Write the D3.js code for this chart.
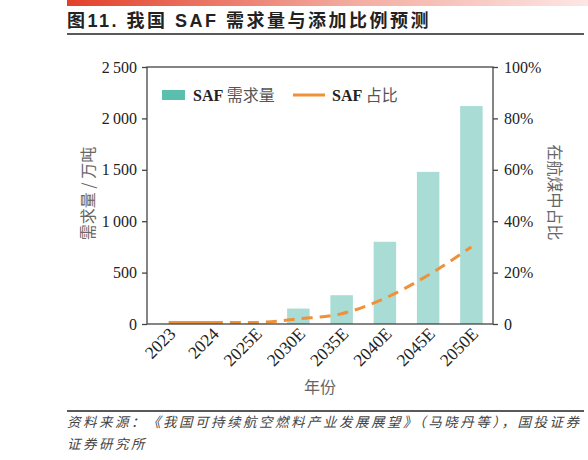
<!DOCTYPE html>
<html>
<head>
<meta charset="utf-8">
<script src="https://cdn.jsdelivr.net/npm/d3@7/dist/d3.min.js"></script>
<style>
  body { margin: 0; background: #fff; }
  svg { display: block; }
</style>
</head>
<body>
<div id="chart"></div>
<script>
// Data
const years = ["2023", "2024", "2025E", "2030E", "2035E", "2040E", "2045E", "2050E"];
const demand = [1, 2, 5, 150, 280, 800, 1480, 2120];          // 万吨
const share = [0.6, 0.6, 0.6, 2, 4, 10, 19, 30];               // %
const leftTicks = [0, 500, 1000, 1500, 2000, 2500];
const rightTicks = [0, 20, 40, 60, 80, 100];

const W = 588, H = 460;
const margin = { top: 67, right: 95, bottom: 136, left: 147 };
const width = W - margin.left - margin.right,
      height = H - margin.top - margin.bottom;

const serif = "'Liberation Serif', 'Times New Roman', serif";
const cjk = "'Noto Sans CJK SC', sans-serif";

const svg = d3.select("#chart").append("svg")
    .attr("width", W)
    .attr("height", H);

// Header: gradient bar, title, underline
const defs = svg.append("defs");
const grad = defs.append("linearGradient").attr("id", "hdr");
grad.append("stop").attr("offset", "0%").attr("stop-color", "#e2402a");
grad.append("stop").attr("offset", "55%").attr("stop-color", "#f3aca0");
grad.append("stop").attr("offset", "100%").attr("stop-color", "#fde6e4");
svg.append("rect").attr("x", 67).attr("y", 0).attr("width", W - 67).attr("height", 6)
    .attr("fill", "url(#hdr)");

svg.append("text")
    .attr("x", 67).attr("y", 27)
    .attr("font-family", "'Liberation Sans', " + cjk)
    .attr("font-size", 18).attr("font-weight", "bold")
    .attr("letter-spacing", 2.5)
    .attr("fill", "#222")
    .text("图11. 我国 SAF 需求量与添加比例预测");

svg.append("line").attr("x1", 67).attr("x2", 584).attr("y1", 34).attr("y2", 34)
    .attr("stroke", "#222").attr("stroke-width", 1.5);

// Chart
const g = svg.append("g").attr("transform", `translate(${margin.left},${margin.top})`);

const x = d3.scaleBand().domain(years).range([0, width]).paddingInner(0.48).paddingOuter(0.24);
const xc = d3.scalePoint().domain(years).range([0, width]).padding(0.5);
const yL = d3.scaleLinear().domain([0, 2500]).range([height, 0]);
const yR = d3.scaleLinear().domain([0, 100]).range([height, 0]);

// Bars
g.selectAll(".bar")
    .data(years.map((d, i) => ({ year: d, v: demand[i] })))
    .enter().append("rect")
    .attr("class", "bar")
    .attr("x", d => xc(d.year) - x.bandwidth() / 2)
    .attr("width", x.bandwidth())
    .attr("y", d => yL(d.v))
    .attr("height", d => height - yL(d.v))
    .attr("fill", "#a9dcd5");

// Share line: solid for actuals, dashed for estimates
const pts = years.map((d, i) => [xc(d), yR(share[i])]);
const line = d3.line().curve(d3.curveMonotoneX);
g.append("path")
    .attr("d", line(pts.slice(0, 2)))
    .attr("fill", "none").attr("stroke", "#f0913a").attr("stroke-width", 3);
g.append("path")
    .attr("d", line(pts.slice(1)))
    .attr("fill", "none").attr("stroke", "#f0913a").attr("stroke-width", 3)
    .attr("stroke-dasharray", "11,7");

// Frame and axes
g.append("rect").attr("width", width).attr("height", height)
    .attr("fill", "none").attr("stroke", "#444").attr("stroke-width", 1.3);

const leftAxis = g.append("g")
    .call(d3.axisLeft(yL).tickValues(leftTicks).tickSize(5).tickPadding(5)
        .tickFormat(d => d3.format(",")(d).replace(",", "\u2009")));
const rightAxis = g.append("g").attr("transform", `translate(${width},0)`)
    .call(d3.axisRight(yR).tickValues(rightTicks).tickSize(5).tickPadding(6)
        .tickFormat(d => d === 0 ? "0" : d + "%"));
[leftAxis, rightAxis].forEach(a => {
    a.select(".domain").remove();
    a.selectAll("line").attr("stroke", "#444").attr("stroke-width", 1.3);
    a.selectAll("text").attr("font-family", serif).attr("font-size", 16).attr("fill", "#222");
});

// Rotated category labels
g.append("g").selectAll("text")
    .data(years).enter().append("text")
    .attr("transform", d => `translate(${xc(d) + 8},${height + 11}) rotate(-45)`)
    .attr("text-anchor", "end")
    .attr("font-family", serif).attr("font-size", 17.5).attr("fill", "#222")
    .text(d => d);

// Axis titles
g.append("text")
    .attr("transform", `translate(${88 - margin.left},${height / 2 - 2}) rotate(-90)`)
    .attr("text-anchor", "middle").attr("dy", "0.35em")
    .attr("font-family", cjk).attr("font-size", 16).attr("fill", "#666")
    .text("需求量 / 万吨");
g.append("text")
    .attr("transform", `translate(${555 - margin.left},${height / 2 - 3}) rotate(90)`)
    .attr("text-anchor", "middle").attr("dy", "0.35em")
    .attr("font-family", cjk).attr("font-size", 16).attr("fill", "#666")
    .text("在航煤中占比");
g.append("text")
    .attr("x", 320 - margin.left).attr("y", 393 - margin.top)
    .attr("text-anchor", "middle")
    .attr("font-family", cjk).attr("font-size", 16).attr("fill", "#666")
    .text("年份");

// Legend
const lg = g.append("g").attr("transform", `translate(${162 - margin.left},${95 - margin.top})`);
lg.append("rect").attr("x", 0).attr("y", -5).attr("width", 23).attr("height", 10).attr("fill", "#5bbfae");
lg.append("text").attr("x", 31).attr("y", 0).attr("dy", "0.35em")
    .attr("font-family", serif).attr("font-size", 16).attr("fill", "#222")
    .call(t => {
        t.append("tspan").attr("font-weight", "bold").text("SAF ");
        t.append("tspan").attr("font-family", cjk).attr("fill", "#555").text("需求量");
    });
lg.append("line").attr("x1", 131).attr("x2", 163).attr("y1", 0).attr("y2", 0)
    .attr("stroke", "#f0913a").attr("stroke-width", 3);
lg.append("text").attr("x", 170).attr("y", 0).attr("dy", "0.35em")
    .attr("font-family", serif).attr("font-size", 16).attr("fill", "#222")
    .call(t => {
        t.append("tspan").attr("font-weight", "bold").text("SAF ");
        t.append("tspan").attr("font-family", cjk).attr("fill", "#555").text("占比");
    });

// Source note
svg.append("line").attr("x1", 67).attr("x2", 584).attr("y1", 411).attr("y2", 411)
    .attr("stroke", "#222").attr("stroke-width", 1.5);
const src = svg.append("text")
    .attr("font-family", cjk).attr("font-size", 13.5)
    .attr("font-style", "italic").attr("fill", "#444");
src.append("tspan").attr("x", 67).attr("y", 427)
    .attr("textLength", 512).attr("lengthAdjust", "spacing")
    .text("资料来源：《我国可持续航空燃料产业发展展望》（马晓丹等），国投证券");
src.append("tspan").attr("x", 67).attr("y", 449).attr("letter-spacing", 2.5).text("证券研究所");
</script>
</body>
</html>
